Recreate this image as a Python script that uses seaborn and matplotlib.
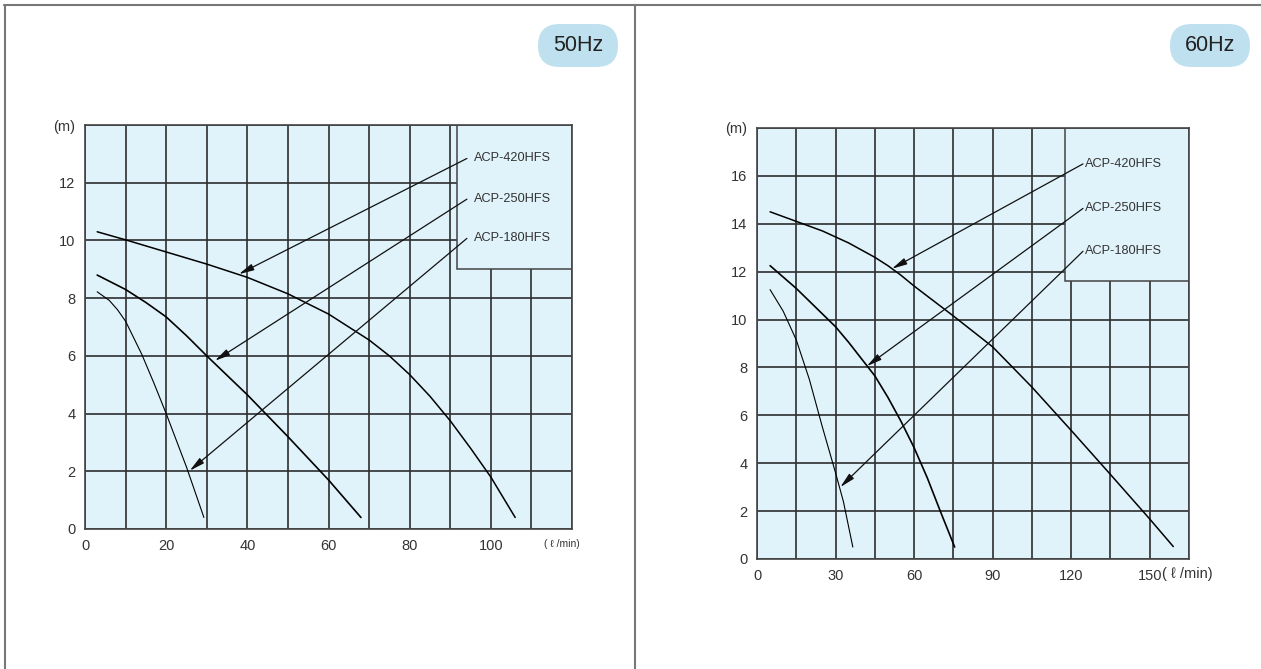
import matplotlib
matplotlib.use("Agg")
import matplotlib.pyplot as plt
import seaborn as sns
import pandas as pd
from matplotlib.patches import Rectangle, FancyBboxPatch
from matplotlib.lines import Line2D

# ---------------- data ----------------
models = ["ACP-420HFS", "ACP-250HFS", "ACP-180HFS"]

# 50 Hz  (flow l/min, head m)
q50_420 = [3, 10, 20, 30, 40, 50, 60, 70, 75, 80, 85, 90, 95, 100, 106]
h50_420 = [10.3, 10.02, 9.6, 9.18, 8.72, 8.15, 7.45, 6.55, 6.0, 5.35, 4.6, 3.75, 2.8, 1.8, 0.4]
q50_250 = [3, 10, 15, 20, 25, 30, 40, 50, 60, 68]
h50_250 = [8.8, 8.3, 7.85, 7.35, 6.7, 6.0, 4.65, 3.2, 1.7, 0.4]
q50_180 = [3, 6, 8, 10, 14, 17, 20, 25, 29.3]
h50_180 = [8.22, 7.92, 7.6, 7.2, 6.05, 5.05, 4.0, 2.15, 0.4]

# 60 Hz
q60_420 = [5, 10, 15, 20, 25, 30, 35, 40, 45, 50, 55, 60, 75, 90, 105, 120, 135, 150, 159]
h60_420 = [14.5, 14.3, 14.1, 13.9, 13.7, 13.45, 13.2, 12.9, 12.6, 12.25, 11.85, 11.4, 10.15,
           8.86, 7.18, 5.37, 3.53, 1.67, 0.52]
q60_250 = [5, 15, 30, 35, 40, 45, 50, 55, 60, 65, 70, 75.5]
h60_250 = [12.25, 11.3, 9.7, 9.05, 8.35, 7.65, 6.75, 5.75, 4.65, 3.4, 2.0, 0.5]
q60_180 = [5, 10, 15, 20, 25, 30, 33, 36.6]
h60_180 = [11.25, 10.35, 9.15, 7.5, 5.5, 3.6, 2.4, 0.5]

# arrow targets on curves (flow, head)
arrow50 = [(37.9, 8.83), (32.0, 5.83), (25.8, 2.02)]
arrow60 = [(51.5, 12.12), (41.9, 8.05), (31.8, 3.0)]

x50_ticks = list(range(0, 121, 10))
x50_labels = ["0", "", "20", "", "40", "", "60", "", "80", "", "100", "", ""]
y50_ticks = list(range(0, 15, 2))
y50_labels = ["0", "2", "4", "6", "8", "10", "12", "(m)"]

x60_ticks = list(range(0, 166, 15))
x60_labels = ["0", "", "30", "", "60", "", "90", "", "120", "", "150", ""]
y60_ticks = list(range(0, 19, 2))
y60_labels = ["0", "2", "4", "6", "8", "10", "12", "14", "16", "(m)"]

# ---------------- style ----------------
sns.set_style("white")
plt.rcParams["font.family"] = ["Liberation Sans", "DejaVu Sans"]

BG = "#e0f3fa"
GRID = "#2e2e2e"
TXT = "#333333"

fig = plt.figure(figsize=(12.61, 6.69), dpi=100)

ax50 = fig.add_axes([85 / 1261, 1 - 529 / 669, (572 - 85) / 1261, (529 - 125) / 669])
ax60 = fig.add_axes([757 / 1261, 1 - 559 / 669, (1189 - 757) / 1261, (559 - 128) / 669])


def draw_panel(ax, curves, widths, xlim, ylim, xt, xl, yt, yl, box, label_y, label_x, arrow_x, targets):
    ax.set_facecolor(BG)
    ax.set_axisbelow(True)
    for (q, h, name), lw in zip(curves, widths):
        df = pd.DataFrame({"flow": q, "head": h, "model": name})
        sns.lineplot(data=df, x="flow", y="head", ax=ax, color="black", linewidth=lw,
                     sort=False, estimator=None, zorder=3)
    ax.set_xlim(*xlim)
    ax.set_ylim(*ylim)
    ax.set_xticks(xt)
    ax.set_xticklabels(xl)
    ax.set_yticks(yt)
    ax.set_yticklabels(yl)
    ax.get_yticklabels()[-1].set_fontsize(8.5)
    ax.set_xlabel("")
    ax.set_ylabel("")
    ax.grid(True, color=GRID, linewidth=1.2)
    for s in ax.spines.values():
        s.set_color("#444444")
        s.set_linewidth(1.2)
    ax.tick_params(direction="out", length=5, width=1.1, color="#444444",
                   labelsize=10.5, labelcolor=TXT, pad=2)
    # legend box
    bx0, by0 = box
    ax.add_patch(Rectangle((bx0, by0), xlim[1] - bx0, ylim[1] - by0, facecolor=BG,
                           edgecolor="#444444", linewidth=1.1, zorder=2))
    for name, ly, tgt in zip(models, label_y, targets):
        ax.text(label_x, ly, name, fontsize=9.2, color=TXT, va="center", ha="left", zorder=5)
        ax.annotate("", xy=tgt, xytext=(arrow_x, ly),
                    arrowprops=dict(arrowstyle="-|>,head_length=0.9,head_width=0.2",
                                    color="#111111", lw=0.9, shrinkA=0, shrinkB=0),
                    zorder=4)


draw_panel(ax50,
           [(q50_420, h50_420, models[0]), (q50_250, h50_250, models[1]), (q50_180, h50_180, models[2])],
           [1.1, 1.2, 0.8], (0, 120), (0, 14), x50_ticks, x50_labels, y50_ticks, y50_labels,
           (91.6, 9.0), [12.84, 11.43, 10.07], 95.9, 94.1, arrow50)

draw_panel(ax60,
           [(q60_420, h60_420, models[0]), (q60_250, h60_250, models[1]), (q60_180, h60_180, models[2])],
           [1.1, 1.2, 0.8], (0, 165), (0, 18), x60_ticks, x60_labels, y60_ticks, y60_labels,
           (117.8, 11.6), [16.5, 14.64, 12.85], 125.2, 124.5, arrow60)

# unit labels on x axes
ax50.annotate("( ℓ /min)", xy=(117.5, 0), xycoords="data", xytext=(0, -7.5),
              textcoords="offset points", ha="center", va="top", fontsize=7.5, color=TXT)
ax60.annotate("( ℓ /min)", xy=(150, 0), xycoords="data", xytext=(8.5, -5.6),
              textcoords="offset points", ha="left", va="top", fontsize=10.5, color=TXT)

# frequency badges (inches)
for x0, label in [(5.38, "50Hz"), (11.70, "60Hz")]:
    fig.add_artist(FancyBboxPatch((x0, 6.02), 0.80, 0.43,
                                  boxstyle="round,pad=0,rounding_size=0.215",
                                  transform=fig.dpi_scale_trans, facecolor="#bfe1ef",
                                  edgecolor="none"))
    fig.text(x0 + 0.40, 6.235, label, transform=fig.dpi_scale_trans, ha="center",
             va="center", fontsize=15.5, color="#222222")

# table frame lines
fig.add_artist(Line2D([4 / 1261, 1], [1 - 5 / 669, 1 - 5 / 669], transform=fig.transFigure,
                      color="#777777", linewidth=1.5))
fig.add_artist(Line2D([4.5 / 1261, 4.5 / 1261], [0, 1 - 5 / 669], transform=fig.transFigure,
                      color="#777777", linewidth=1.5))
fig.add_artist(Line2D([635 / 1261, 635 / 1261], [0, 1 - 5 / 669], transform=fig.transFigure,
                      color="#777777", linewidth=1.5))

fig.savefig("out.png", dpi=100)
